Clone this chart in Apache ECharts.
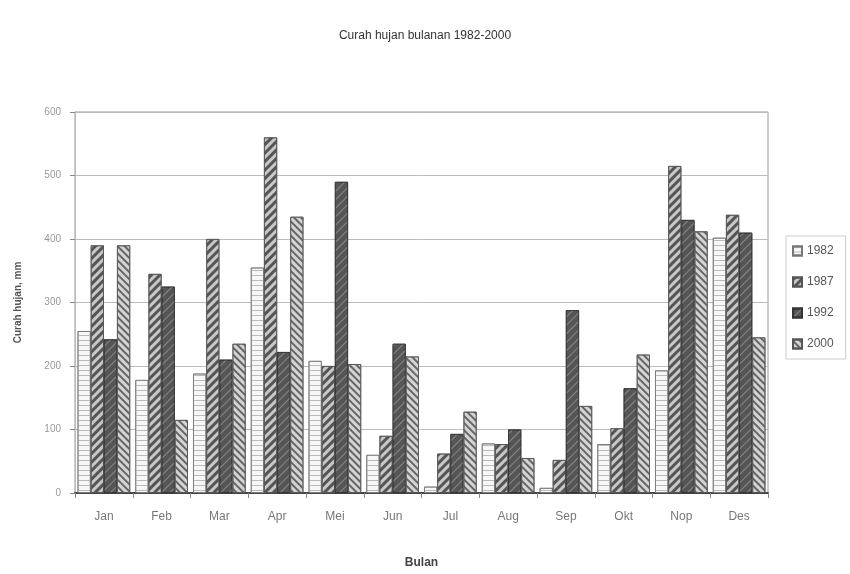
<!DOCTYPE html>
<html>
<head>
<meta charset="utf-8">
<script src="https://cdn.jsdelivr.net/npm/echarts@6/dist/echarts.min.js"></script>
<style>
  html, body { margin: 0; padding: 0; background: #fff; }
  #chart { width: 850px; height: 574px; }
</style>
</head>
<body>
<div id="chart"></div>
<script>
var bulan = ["Jan", "Feb", "Mar", "Apr", "Mei", "Jun", "Jul", "Aug", "Sep", "Okt", "Nop", "Des"];
var y1982 = [255, 178, 188, 355, 208, 60, 10, 78, 8, 77, 193, 402];
var y1987 = [390, 345, 400, 560, 200, 90, 62, 77, 52, 102, 515, 438];
var y1992 = [242, 325, 210, 222, 490, 235, 93, 100, 288, 165, 430, 410];
var y2000 = [390, 115, 235, 435, 203, 215, 128, 55, 137, 218, 412, 245];
var yTicks = [0, 100, 200, 300, 400, 500, 600];

var chart = echarts.init(document.getElementById("chart"));

// pola arsir tiap tahun (mirip grafik Excel hitam-putih)
function pola(color, rot, dy) {
  return {
    symbol: "rect",
    symbolSize: 1,
    color: color,
    dashArrayX: [1, 0],
    dashArrayY: dy,
    rotation: rot
  };
}

function seri(name, data, fill, border, decal) {
  return {
    name: name,
    type: "bar",
    data: data,
    barGap: "0%",
    barCategoryGap: "9%",
    itemStyle: {
      color: fill,
      borderColor: border,
      borderWidth: 0.8,
      decal: decal
    }
  };
}

chart.setOption({
  animation: false,
  textStyle: { fontFamily: "Liberation Sans, Arial, sans-serif" },
  title: {
    text: "Curah hujan bulanan 1982-2000",
    left: "center",
    top: 25,
    textStyle: { fontSize: 12, fontWeight: "normal", color: "#333" }
  },
  legend: {
    orient: "vertical",
    left: 786,
    top: 236,
    itemWidth: 9,
    itemHeight: 9,
    itemGap: 19,
    icon: "rect",
    borderColor: "#ccc",
    borderWidth: 1,
    padding: [9, 12, 9, 6],
    textStyle: { fontSize: 12, color: "#555" },
    data: ["1982", "1987", "1992", "2000"]
  },
  grid: {
    left: 75,
    right: 82,
    top: 112,
    bottom: 77,
    show: true,
    borderColor: "#999",
    borderWidth: 1
  },
  xAxis: {
    type: "category",
    data: bulan,
    name: "Bulan",
    nameLocation: "middle",
    nameGap: 64,
    nameTextStyle: { fontSize: 12, fontWeight: "bold", color: "#444" },
    axisLine: { lineStyle: { color: "#444", width: 2 } },
    axisTick: { show: true, lineStyle: { color: "#888" } },
    axisLabel: { fontSize: 12, color: "#777", margin: 18 }
  },
  yAxis: {
    type: "value",
    min: yTicks[0],
    max: yTicks[yTicks.length - 1],
    interval: 100,
    name: "Curah hujan, mm",
    nameLocation: "middle",
    nameGap: 52,
    nameTextStyle: { fontSize: 10, fontWeight: "bold", color: "#555" },
    axisLine: { show: true, lineStyle: { color: "#bbb" } },
    axisTick: { show: true, lineStyle: { color: "#888" } },
    axisLabel: { fontSize: 10, color: "#999", margin: 14 },
    splitLine: { lineStyle: { color: "#bbb" } }
  },
  series: [
    seri("1982", y1982, "#f7f7f7", "#777", pola("#bbb", 0, [1, 4])),
    seri("1987", y1987, "#c8c8c8", "#555", pola("#555", -Math.PI / 4, [3, 3])),
    seri("1992", y1992, "#555", "#333", pola("#888", -Math.PI / 4, [1, 5])),
    seri("2000", y2000, "#d4d4d4", "#555", pola("#666", Math.PI / 4, [2, 3]))
  ]
});
</script>
</body>
</html>
